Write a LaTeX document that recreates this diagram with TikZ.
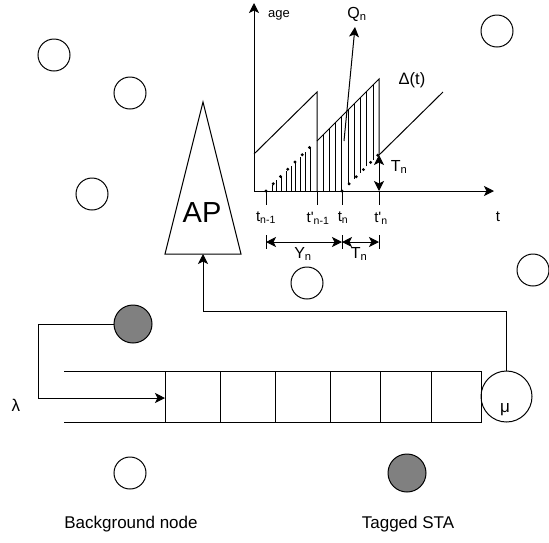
\documentclass[tikz,border=0pt]{standalone}
\usepackage{fontspec}
\setmainfont{Liberation Sans}
\usetikzlibrary{arrows.meta,calc}
\definecolor{stagray}{HTML}{808080}
\begin{document}
\begin{tikzpicture}[x=1pt,y=-1pt,
  ln/.style={line width=1pt},
  thin line/.style={line width=0.75pt},
  bgnode/.style={circle,draw,line width=1pt,minimum size=32pt,inner sep=0pt,fill=white},
  tagnode/.style={circle,draw,line width=1pt,minimum size=38pt,inner sep=0pt,fill=stagray},
  tip/.style={-{Stealth[length=10pt,width=10pt,inset=2.5pt]}},
  dtip/.style={{Stealth[length=10pt,width=10pt,inset=2.5pt]}-{Stealth[length=10pt,width=10pt,inset=2.5pt]}},
  lbl/.style={inner sep=0pt,font=\fontsize{15}{17}\selectfont},
  biglbl/.style={inner sep=0pt,font=\fontsize{17}{20}\selectfont},
  dot/.style={circle,fill=black,inner sep=0pt,minimum size=3.2pt}
]
\useasboundingbox (0,0) rectangle (549,542);

% ---------- background nodes ----------
\node[bgnode] (b1) at (54,55) {};
\node[bgnode] (b2) at (130,93) {};
\node[bgnode] (b3) at (92,194) {};
\node[bgnode] (b4) at (497,31) {};
\node[bgnode] (b5) at (307,283) {};
\node[bgnode] (b6) at (533,270) {};
\node[bgnode] (b7) at (130,473) {};
\node[tagnode] (t1) at (133,324) {};
\node[tagnode] (t2) at (407,473) {};
\node[biglbl] (lb7) at (131,524) {Background node};
\node[biglbl] (lt2) at (408,524) {Tagged STA};

% ---------- AP ----------
\coordinate (apA) at (203,102);
\coordinate (apL) at (165,254);
\coordinate (apR) at (241,254);
\coordinate (apbase) at (203,254);
\draw[ln] (apA) -- (apL) -- (apR) -- cycle;
\node[inner sep=0pt,font=\fontsize{29}{32}\selectfont] (aplbl) at (202,213) {AP};

% ---------- queue ----------
\coordinate (qtl) at (165,371);
\coordinate (qbr) at (481,422);
\draw[ln] (qtl) rectangle (qbr);
\foreach \xx in {220,275,330,380,431}{
  \draw[ln] (\xx,371) -- (\xx,422);
}
\coordinate (wl1) at (64,371);
\coordinate (wl2) at (64,422);
\coordinate (wr2) at (165,422);
\draw[ln] (wl1) -- (qtl);
\draw[ln] (wl2) -- (wr2);
\node[circle,draw,line width=1pt,minimum size=51pt,inner sep=0pt] (mu) at (506.5,396.5) {};
\node[biglbl] (mulbl) at (505,410) {μ};
\node[biglbl] (lam) at (16,405) {λ};

% loop from tagged STA into queue
\coordinate (L1) at (38.5,324);
\coordinate (L2) at (38.5,398);
\coordinate (qin) at (165,398);
\draw[ln,tip] (t1.west) -- (L1) -- (L2) -- (qin);

% server to AP
\coordinate (k1) at (203,311);
\draw[ln,tip] (mu.north) |- (k1) -- (apbase);

% ---------- age graph ----------
\coordinate (O) at (254,191);
\coordinate (Ytop) at (254,3);
\coordinate (Xend) at (494,191);
\draw[ln,tip] (O) -- (Ytop);
\draw[ln,tip] (O) -- (Xend);
\node[inner sep=0pt,font=\fontsize{13}{15}\selectfont] (age) at (279,15) {age};
\node[lbl] (tlbl) at (498,217) {t};

% sawtooth
\coordinate (s1) at (254,154);
\coordinate (s2) at (317,92);
\coordinate (s3) at (317,191);
\coordinate (s4) at (317,141);
\coordinate (s5) at (379,79);
\coordinate (s6) at (379,155);
\coordinate (s7) at (443,92);
\draw[ln] (s1) -- (s2) -- (s3);
\draw[ln] (s4) -- (s5) -- (s6);
\draw[ln] (s6) -- (s7);

% hatching region 1
\foreach \k in {0,...,8}{
  \pgfmathsetmacro{\hx}{272+4.75*\k}
  \pgfmathsetmacro{\hy}{191-(\hx-266)}
  \draw[thin line] (\hx,191) -- (\hx,\hy);
}
\foreach \k in {0,...,6}{
  \pgfmathsetmacro{\dx}{266+7.25*\k}
  \pgfmathsetmacro{\dy}{191-(\dx-266)}
  \node[dot] at (\dx,\dy) {};
}
% hatching region 2
\foreach \k in {0,...,8}{
  \pgfmathsetmacro{\hx}{323+6.25*\k}
  \pgfmathsetmacro{\hy}{141-(\hx-317)}
  \pgfmathsetmacro{\hb}{\hx>342 ? 191-(\hx-342) : 191}
  \draw[thin line] (\hx,\hb) -- (\hx,\hy);
}
\foreach \k in {0,...,5}{
  \pgfmathsetmacro{\dx}{342+7.15*\k}
  \pgfmathsetmacro{\dy}{191-(\dx-342)}
  \node[dot] at (\dx,\dy) {};
}

% ticks
\foreach \xx in {266,317,342,379}{
  \draw[ln] (\xx,191) -- (\xx,205);
}
\node[lbl] (l1) at (266,218) {t\textsubscript{n-1}};
\node[lbl] (l2) at (318,218) {t\textquotesingle\textsubscript{n-1}};
\node[lbl] (l3) at (343,218) {t\textsubscript{n}};
\node[lbl] (l4) at (381,218) {t\textquotesingle\textsubscript{n}};

% T_n vertical
\coordinate (tv1) at (379,155);
\coordinate (tv2) at (379,191);
\draw[ln,dtip] (tv1) -- (tv2);
\node[lbl,font=\fontsize{16}{18}\selectfont] (tnv) at (399,167) {T\textsubscript{n}};

% Q_n arrow
\coordinate (q1) at (344,141);
\coordinate (q2) at (355,27);
\draw[ln,tip] (q1) -- (q2);
\node[lbl,font=\fontsize{16}{18}\selectfont] (qn) at (357,14) {Q\textsubscript{n}};

\node[lbl,font=\fontsize{16.5}{19}\selectfont] (delta) at (412,80) {Δ(t)};

% Y_n and T_n spans
\coordinate (y1) at (266,242);
\coordinate (y2) at (342,242);
\coordinate (y3) at (379,242);
\draw[ln,dtip] (y1) -- (y2);
\draw[ln,dtip] (y2) -- (y3);
\foreach \xx in {266,342,379}{
  \draw[ln] (\xx,235) -- (\xx,249);
}
\node[lbl,font=\fontsize{16}{18}\selectfont] (yn) at (303,254) {Y\textsubscript{n}};
\node[lbl,font=\fontsize{16}{18}\selectfont] (tn) at (359,254) {T\textsubscript{n}};

\end{tikzpicture}
\end{document}
